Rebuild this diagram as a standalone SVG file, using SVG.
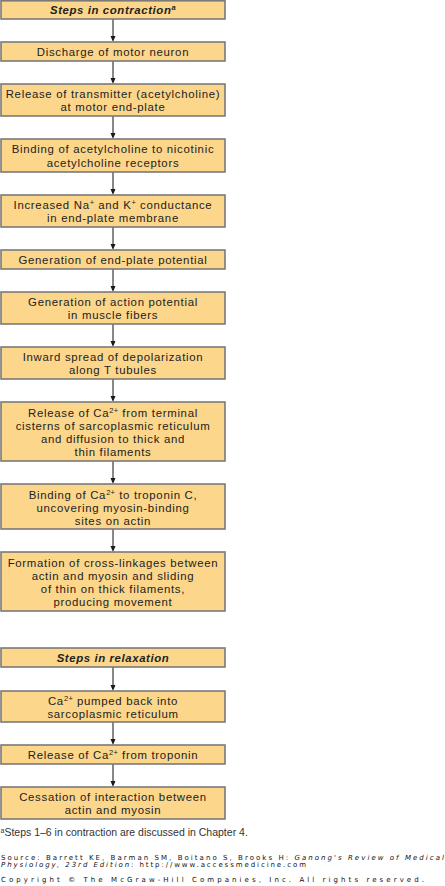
<svg xmlns="http://www.w3.org/2000/svg" width="445" height="886" viewBox="0 0 445 886">
<style>
.box{fill:#FBD68B;stroke:#7a7a7a;stroke-width:1.6}
.t{font-family:"Liberation Sans",Arial,sans-serif;font-size:11.4px;letter-spacing:0.7px;fill:#222;text-anchor:middle}
.h{font-weight:bold;font-style:italic;letter-spacing:0.6px}
.sup{font-size:7.5px;letter-spacing:0.3px}
.conn{stroke:#888;stroke-width:2;fill:none;marker-end:url(#ah)}
.fn{font-family:"Liberation Sans",Arial,sans-serif;font-size:10.5px;fill:#333}
.src{font-family:"DejaVu Sans",Verdana,sans-serif;font-size:7px;fill:#111}
.it{font-style:italic}
</style>
<defs>
<marker id="ah" viewBox="0 0 6 6" refX="1" refY="3" markerWidth="6" markerHeight="6" markerUnits="userSpaceOnUse" orient="auto">
<path d="M0,0.5 L6,3 L0,5.5 Z" fill="#1a1a1a"/>
</marker>
</defs>
<rect width="445" height="886" fill="#fff"/>
<g id="connectors">
<path class="conn" d="M113,19 V37"/>
<path class="conn" d="M113,61 V79"/>
<path class="conn" d="M113,116 V134"/>
<path class="conn" d="M113,172 V190"/>
<path class="conn" d="M113,227 V245"/>
<path class="conn" d="M113,269 V287"/>
<path class="conn" d="M113,324 V342"/>
<path class="conn" d="M113,379 V397"/>
<path class="conn" d="M113,461 V479"/>
<path class="conn" d="M113,529 V547"/>
<path class="conn" d="M113,667 V686"/>
<path class="conn" d="M113,722 V740"/>
<path class="conn" d="M113,764 V782"/>
</g>
<g id="n1"><rect class="box" x="1" y="0.8" width="224" height="18.2"/><text class="t h" x="113" y="14.4">Steps in contraction<tspan class="sup" dy="-4">a</tspan></text></g>
<g id="n2"><rect class="box" x="1" y="42" width="224" height="19"/><text class="t" x="113" y="55.8">Discharge of motor neuron</text></g>
<g id="n3"><rect class="box" x="1" y="84" width="224" height="32"/><text class="t" x="113" y="97.8">Release of transmitter (acetylcholine)</text><text class="t" x="113" y="111">at motor end-plate</text></g>
<g id="n4"><rect class="box" x="1" y="139" width="224" height="33"/><text class="t" x="113" y="153.3">Binding of acetylcholine to nicotinic</text><text class="t" x="113" y="166.5">acetylcholine receptors</text></g>
<g id="n5"><rect class="box" x="1" y="195" width="224" height="32"/><text class="t" x="113" y="208.8">Increased Na<tspan class="sup" dy="-4">+</tspan><tspan dy="4"> and K</tspan><tspan class="sup" dy="-4">+</tspan><tspan dy="4"> conductance</tspan></text><text class="t" x="113" y="222">in end-plate membrane</text></g>
<g id="n6"><rect class="box" x="1" y="250" width="224" height="19"/><text class="t" x="113" y="263.8">Generation of end-plate potential</text></g>
<g id="n7"><rect class="box" x="1" y="292" width="224" height="32"/><text class="t" x="113" y="305.8">Generation of action potential</text><text class="t" x="113" y="319">in muscle fibers</text></g>
<g id="n8"><rect class="box" x="1" y="347" width="224" height="32"/><text class="t" x="113" y="360.8">Inward spread of depolarization</text><text class="t" x="113" y="374">along T tubules</text></g>
<g id="n9"><rect class="box" x="1" y="402" width="224" height="59"/><text class="t" x="113" y="416.6">Release of Ca<tspan class="sup" dy="-4">2+</tspan><tspan dy="4"> from terminal</tspan></text><text class="t" x="113" y="429.8">cisterns of sarcoplasmic reticulum</text><text class="t" x="113" y="443">and diffusion to thick and</text><text class="t" x="113" y="456.2">thin filaments</text></g>
<g id="n10"><rect class="box" x="1" y="484" width="224" height="45"/><text class="t" x="113" y="498.5">Binding of Ca<tspan class="sup" dy="-4">2+</tspan><tspan dy="4"> to troponin C,</tspan></text><text class="t" x="113" y="511.7">uncovering myosin-binding</text><text class="t" x="113" y="524.9">sites on actin</text></g>
<g id="n11"><rect class="box" x="1" y="552" width="224" height="59"/><text class="t" x="113" y="566.5">Formation of cross-linkages between</text><text class="t" x="113" y="579.7">actin and myosin and sliding</text><text class="t" x="113" y="592.9">of thin on thick filaments,</text><text class="t" x="113" y="606.1">producing movement</text></g>
<g id="n12"><rect class="box" x="1" y="648" width="224" height="19"/><text class="t h" x="113" y="662">Steps in relaxation</text></g>
<g id="n13"><rect class="box" x="1" y="691" width="224" height="31"/><text class="t" x="113" y="704.5">Ca<tspan class="sup" dy="-4">2+</tspan><tspan dy="4"> pumped back into</tspan></text><text class="t" x="113" y="717.7">sarcoplasmic reticulum</text></g>
<g id="n14"><rect class="box" x="1" y="745" width="224" height="19"/><text class="t" x="113" y="759">Release of Ca<tspan class="sup" dy="-4">2+</tspan><tspan dy="4"> from troponin</tspan></text></g>
<g id="n15"><rect class="box" x="1" y="787" width="224" height="32"/><text class="t" x="113" y="800.8">Cessation of interaction between</text><text class="t" x="113" y="814">actin and myosin</text></g>
<g id="footer">
<text class="fn" x="0.5" y="836"><tspan font-size="7px" dy="-3">a</tspan><tspan dy="3">Steps 1–6 in contraction are discussed in Chapter 4.</tspan></text>
<text class="src" x="1" y="859.8" textLength="443" lengthAdjust="spacing">Source: Barrett KE, Barman SM, Boitano S, Brooks H: <tspan class="it">Ganong's Review of Medical</tspan></text>
<text class="src" x="1" y="867.4" textLength="305" lengthAdjust="spacing"><tspan class="it">Physiology, 23rd Edition</tspan>: http://www.accessmedicine.com</text>
<text class="src" x="1" y="881.5" textLength="423" lengthAdjust="spacing">Copyright © The McGraw-Hill Companies, Inc. All rights reserved.</text>
</g>
</svg>
